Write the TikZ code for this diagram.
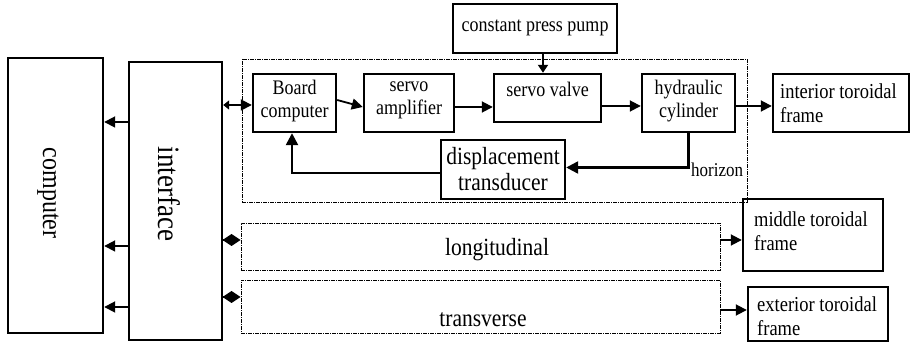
\documentclass[tikz,border=0pt]{standalone}
\usepackage{fontspec}
\usepackage{graphicx}
\setmainfont{Liberation Serif}
\usetikzlibrary{arrows.meta}
\newcommand\tallt[1]{\scalebox{1}[1.15]{#1}}
\tikzset{
  box/.style={draw, line width=2.4pt, inner sep=0pt},
  dbox/.style={draw, line width=0.9pt, dash pattern=on 4pt off 1pt on 1pt off 1pt, inner sep=0pt},
  txt/.style={inner sep=0pt, align=center, font=\fontsize{18}{23}\selectfont},
  ltxt/.style={inner sep=0pt, align=left, anchor=west, font=\fontsize{18.5}{24}\selectfont},
  arr/.style={line width=1.8pt, -{Triangle[length=11pt,width=11pt]}},
  dblarr/.style={line width=1.8pt, {Triangle[length=6pt,width=9pt]}-{Triangle[length=11pt,width=11pt]}},
  fbarr/.style={line width=2.4pt, -{Triangle[length=12pt,width=12pt]}},
  diaarr/.style={line width=1.8pt, -{Diamond[length=18pt,width=12pt]}},
}
\begin{document}
\begin{tikzpicture}[x=1pt,y=-1pt]
\useasboundingbox (0,0) rectangle (911,344);
% helper coordinates
\coordinate (r105) at (0,105);
\coordinate (r106) at (0,106);
\coordinate (r107) at (0,107);
\coordinate (r122) at (0,122);
\coordinate (r240) at (0,240);
\coordinate (r246) at (0,246);
\coordinate (r297) at (0,297);
\coordinate (r307) at (0,307);
\coordinate (r310) at (0,310);
\coordinate (c543) at (543,0);

% boxes
\node[box, minimum width=95pt, minimum height=275pt] (computer) at (55.5,195.5) {};
\node[txt, rotate=-90, font=\fontsize{24}{28}\selectfont] (computert) at (48,193) {\tallt{computer}};
\node[box, minimum width=93pt, minimum height=278pt] (interface) at (175.5,201) {};
\node[txt, rotate=-90, font=\fontsize{27}{30}\selectfont] (interfacet) at (169,194) {\tallt{interface}};

\node[dbox, minimum width=505pt, minimum height=143pt] (main) at (494.5,130.5) {};
\node[box, minimum width=83pt, minimum height=58pt] (board) at (294.5,103) {};
\node[txt] (boardt) at (294.5,101) {\tallt{Board}\\\tallt{computer}};
\node[box, minimum width=90pt, minimum height=58pt] (amp) at (409,103) {};
\node[txt] (ampt) at (409,100) {\tallt{servo}\\\tallt{amplifier}};
\node[box, minimum width=107pt, minimum height=48pt] (valve) at (547.5,98) {};
\node[txt] (valvet) at (547.5,89) {\tallt{servo valve}};
\node[box, minimum width=164pt, minimum height=49pt] (pump) at (535,28.5) {};
\node[txt] (pumpt) at (535,28) {\tallt{constant press pump}};
\node[box, minimum width=93pt, minimum height=58pt] (hyd) at (688.5,103) {};
\node[txt] (hydt) at (688.5,101) {\tallt{hydraulic}\\\tallt{cylinder}};
\node[box, minimum width=136pt, minimum height=58pt] (interior) at (841,103) {};
\node[ltxt] (interiort) at (780,103) {\tallt{interior toroidal}\\\tallt{frame}};
\node[box, minimum width=124pt, minimum height=59pt] (disp) at (503,169.5) {};
\node[txt, font=\fontsize{21.5}{26}\selectfont] (dispt) at (503,169) {\tallt{displacement}\\\tallt{transducer}};
\node[txt, anchor=west, font=\fontsize{17}{20}\selectfont] (horizon) at (691,170) {\tallt{horizon}};

\node[dbox, minimum width=479pt, minimum height=47pt] (long) at (480.5,246.5) {};
\node[txt, font=\fontsize{21.5}{26}\selectfont] (longt) at (497,250) {\tallt{longitudinal}};
\node[dbox, minimum width=479pt, minimum height=53pt] (trans) at (480.5,306.5) {};
\node[txt, font=\fontsize{21.5}{26}\selectfont] (transt) at (483,320) {\tallt{transverse}};

\node[box, minimum width=140pt, minimum height=72pt] (middle) at (813,235) {};
\node[ltxt] (middlet) at (754,231) {\tallt{middle toroidal}\\\tallt{frame}};
\node[box, minimum width=140pt, minimum height=54pt] (exterior) at (818,314) {};
\node[ltxt] (exteriort) at (757,316) {\tallt{exterior toroidal}\\\tallt{frame}};

% connectors: interface -> computer
\draw[arr] (interface.west |- r122) -- (computer.east |- r122);
\draw[arr] (interface.west |- r246) -- (computer.east |- r246);
\draw[arr] (interface.west |- r307) -- (computer.east |- r307);

% interface -> main / long / trans
\draw[dblarr] (interface.east |- r105) -- (board.west |- r105);
\draw[diaarr] (interface.east |- r240) -- (long.west |- r240);
\draw[diaarr] (interface.east |- r297) -- (trans.west |- r297);

% main chain
\draw[arr] ([yshift=3pt]board.east) -- ([yshift=-4pt]amp.west);
\draw[arr] (amp.east |- r107) -- (valve.west |- r107);
\draw[arr, -{Triangle[length=8pt,width=10pt]}] (pump.south -| c543) -- (valve.north -| c543);
\draw[arr] (valve.east |- r106) -- (hyd.west |- r106);
\draw[arr] (hyd.east |- r106) -- (interior.west |- r106);

% feedback
\draw[fbarr] (hyd.south) |- ([yshift=2pt]disp.east);
\draw[fbarr] ([yshift=-3.5pt]disp.west) -| ([xshift=-2.5pt]board.south);

% outputs
\draw[arr] (long.east |- r240) -- (middle.west |- r240);
\draw[arr] (trans.east |- r310) -- (exterior.west |- r310);
\end{tikzpicture}
\end{document}
